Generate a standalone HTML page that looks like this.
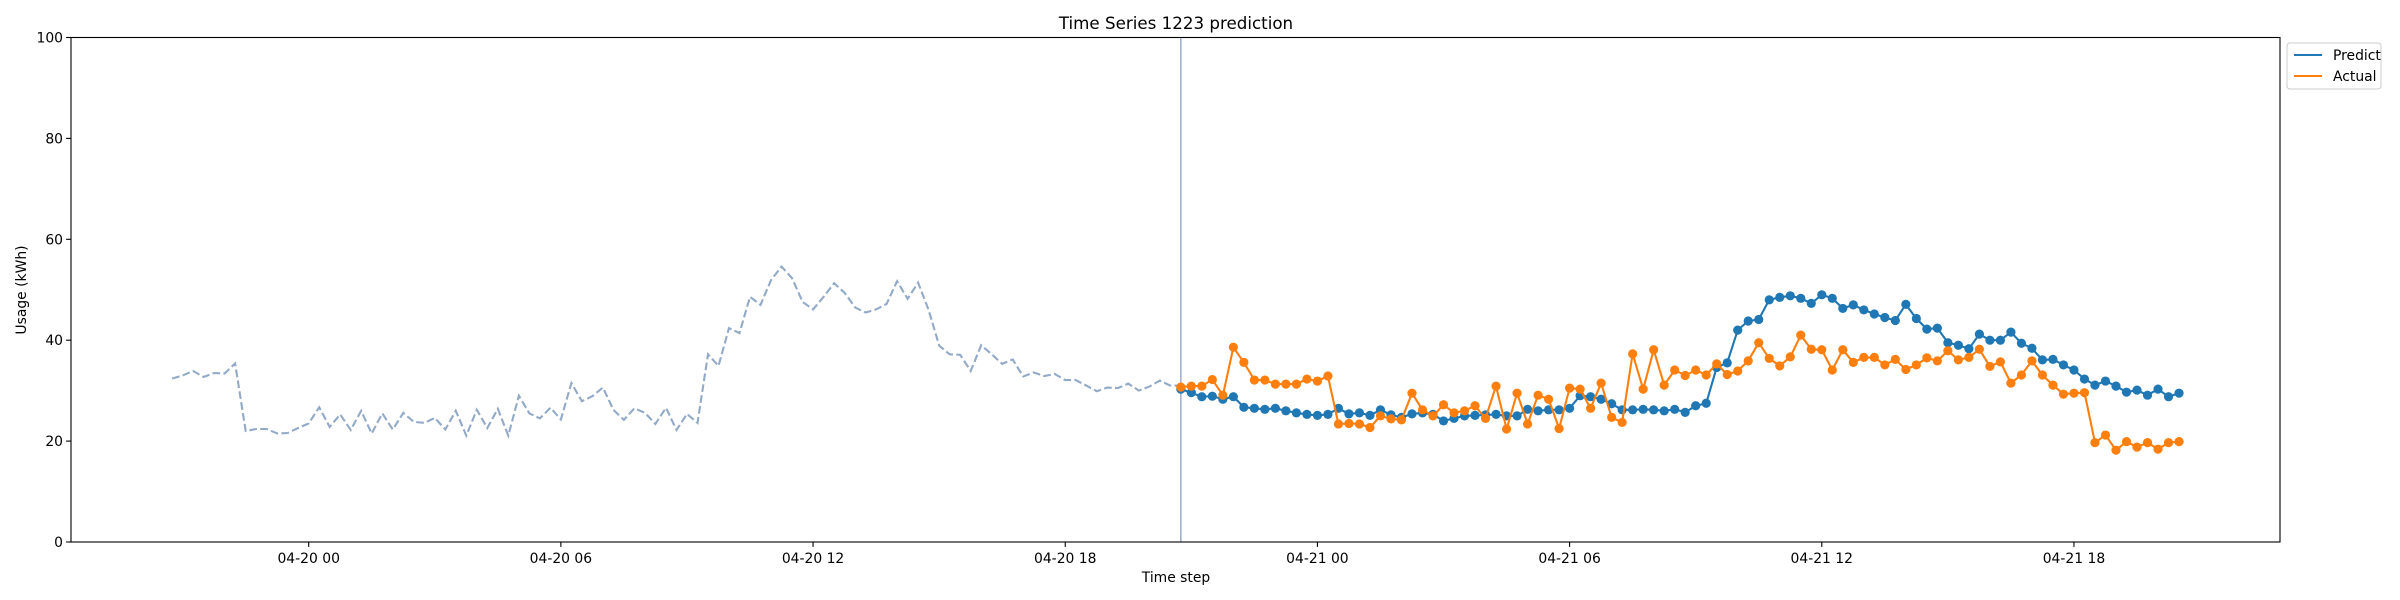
<!DOCTYPE html>
<html><head><meta charset="utf-8">
<style>
html,body{margin:0;padding:0;background:#fff;}
svg{display:block;font-family:"DejaVu Sans","Liberation Sans",sans-serif;}
</style></head>
<body>
<svg id="chart" width="2400" height="600" viewBox="0 0 2400 600" xmlns="http://www.w3.org/2000/svg">
<rect x="0" y="0" width="2400" height="600" fill="#fff"/>
<text x="1176" y="29" text-anchor="middle" font-size="16.7" fill="#000">Time Series 1223 prediction</text>
<text x="1176" y="582" text-anchor="middle" font-size="13.9" fill="#000">Time step</text>
<text transform="translate(26,290) rotate(-90)" text-anchor="middle" font-size="13.9" fill="#000">Usage (kWh)</text>
<g id="plot"></g>
<g>
<rect x="2287" y="43" width="94" height="46" rx="3" fill="#fff" stroke="#ccc" stroke-width="1"/>
<line x1="2294" y1="55" x2="2322" y2="55" stroke="#1f77b4" stroke-width="2.1"/>
<text x="2333" y="60" font-size="13.9" fill="#000">Predict</text>
<line x1="2294" y1="76" x2="2322" y2="76" stroke="#ff7f0e" stroke-width="2.1"/>
<text x="2333" y="81" font-size="13.9" fill="#000">Actual</text>
</g>
</svg>
<script>
// history: 15-min steps starting 04-19 20:45 (hours relative to 04-20 00 = -3.25)
const historyStartHour = -3.25;
const historyValues = [32.4,33.0,33.9,32.7,33.5,33.4,35.4,22.0,22.4,22.4,21.5,21.6,22.6,23.5,26.7,22.8,25.3,22.2,26.0,21.5,25.5,22.3,25.6,23.8,23.6,24.6,22.3,26.0,21.1,26.2,22.6,26.4,21.1,29.0,25.5,24.5,26.6,24.3,31.5,27.9,28.9,30.6,26.2,24.2,26.5,25.6,23.4,26.6,22.2,25.4,23.6,37.2,34.9,42.4,41.4,48.6,47.0,51.9,54.6,52.3,47.6,46.1,48.6,51.3,49.4,46.5,45.5,46.1,47.2,51.7,48.2,51.4,46.0,38.9,37.2,37.1,33.9,39.0,37.2,35.3,36.2,32.8,33.6,32.9,33.3,32.1,32.1,31.0,29.9,30.6,30.5,31.4,30.0,30.8,32.0,31.0,31.0];
// forecast: 15-min steps starting 04-20 20:45
const forecastStartHour = 20.75;
const predictValues = [30.3,29.6,28.8,28.9,28.3,28.8,26.7,26.5,26.3,26.5,26.0,25.6,25.3,25.1,25.3,26.5,25.4,25.6,25.1,26.2,25.2,24.7,25.4,25.6,25.3,24.0,24.5,25.0,25.1,25.2,25.3,25.0,25.0,26.3,26.0,26.2,26.2,26.5,29.0,28.8,28.3,27.4,26.2,26.2,26.3,26.2,26.0,26.3,25.7,27.0,27.5,34.6,35.5,42.0,43.8,44.1,48.0,48.5,48.8,48.3,47.3,49.0,48.3,46.3,47.0,46.0,45.2,44.5,43.9,47.1,44.3,42.2,42.4,39.5,39.0,38.3,41.2,40.0,40.0,41.6,39.4,38.4,36.1,36.2,35.1,34.1,32.3,31.1,31.9,30.9,29.7,30.1,29.1,30.3,28.8,29.5];
const actualValues = [30.7,30.9,30.9,32.2,29.1,38.6,35.6,32.1,32.1,31.3,31.3,31.3,32.3,31.9,32.9,23.4,23.5,23.4,22.7,25.0,24.4,24.2,29.5,26.2,25.0,27.2,25.6,26.0,27.0,24.5,30.9,22.4,29.5,23.4,29.1,28.3,22.5,30.5,30.3,26.5,31.5,24.7,23.7,37.3,30.3,38.1,31.1,34.1,33.0,34.1,33.1,35.3,33.2,33.9,35.9,39.5,36.4,34.9,36.7,41.0,38.2,38.1,34.1,38.1,35.6,36.6,36.6,35.1,36.2,34.2,35.1,36.5,35.9,37.9,36.1,36.6,38.2,34.8,35.7,31.5,33.1,35.9,33.1,31.1,29.3,29.5,29.6,19.7,21.2,18.2,19.9,18.8,19.7,18.4,19.7,19.9];
const yTicks = [0,20,40,60,80,100];
const xTickHours = [0,6,12,18,24,30,36,42];
const xTickLabels = ["04-20 00","04-20 06","04-20 12","04-20 18","04-21 00","04-21 06","04-21 12","04-21 18"];

const L=71,R=2280,T=37.5,B=542;
const X0=308.7, PXH=42.03;
function xs(h){return X0+PXH*h;}
function ys(v){return B-(B-T)*v/100;}
const NS='http://www.w3.org/2000/svg';
const g=document.getElementById('plot');
function mk(tag,attrs,parent){const e=document.createElementNS(NS,tag);for(const k in attrs)e.setAttribute(k,attrs[k]);(parent||g).appendChild(e);return e;}

yTicks.forEach(v=>{
  const t=mk('line',{x1:L-4.9,x2:L,y1:ys(v),y2:ys(v),stroke:'#000','stroke-width':1.1});
  
  
  const l=mk('text',{x:L-8,y:ys(v)+5,'text-anchor':'end','font-size':13.9,fill:'#000'});
  l.textContent=v;
  
  
});
xTickHours.forEach((h,i)=>{
  const t=mk('line',{x1:xs(h),x2:xs(h),y1:B,y2:B+4.9,stroke:'#000','stroke-width':1.1});
  
  
  const l=mk('text',{x:xs(h),y:B+21,'text-anchor':'middle','font-size':13.9,fill:'#000'});
  l.textContent=xTickLabels[i];
  
  
});

const hp=historyValues.map((v,i)=>xs(historyStartHour+0.25*i).toFixed(1)+','+ys(v).toFixed(1)).join(' ');
const hl=mk('polyline',{points:hp,fill:'none',stroke:'#92aac8','stroke-width':2.1,'stroke-dasharray':'7.7 3.3'});



const vl=mk('line',{x1:xs(forecastStartHour),x2:xs(forecastStartHour),y1:T,y2:B,stroke:'#a3b0d4','stroke-width':1.6});



function series(vals,color,name){
  const pts=vals.map((v,i)=>xs(forecastStartHour+0.25*i).toFixed(1)+','+ys(v).toFixed(1)).join(' ');
  const pl=mk('polyline',{points:pts,fill:'none',stroke:color,'stroke-width':2.1});
  
  
  vals.forEach((v,i)=>{
    const c=mk('circle',{cx:xs(forecastStartHour+0.25*i),cy:ys(v),r:4.6,fill:color});
    
    
  });
}
series(predictValues,'#1f77b4','predict');
series(actualValues,'#ff7f0e','actual');

const fr=mk('rect',{x:L,y:T,width:R-L,height:B-T,fill:'none',stroke:'#000','stroke-width':1.1});


</script>
</body></html>
